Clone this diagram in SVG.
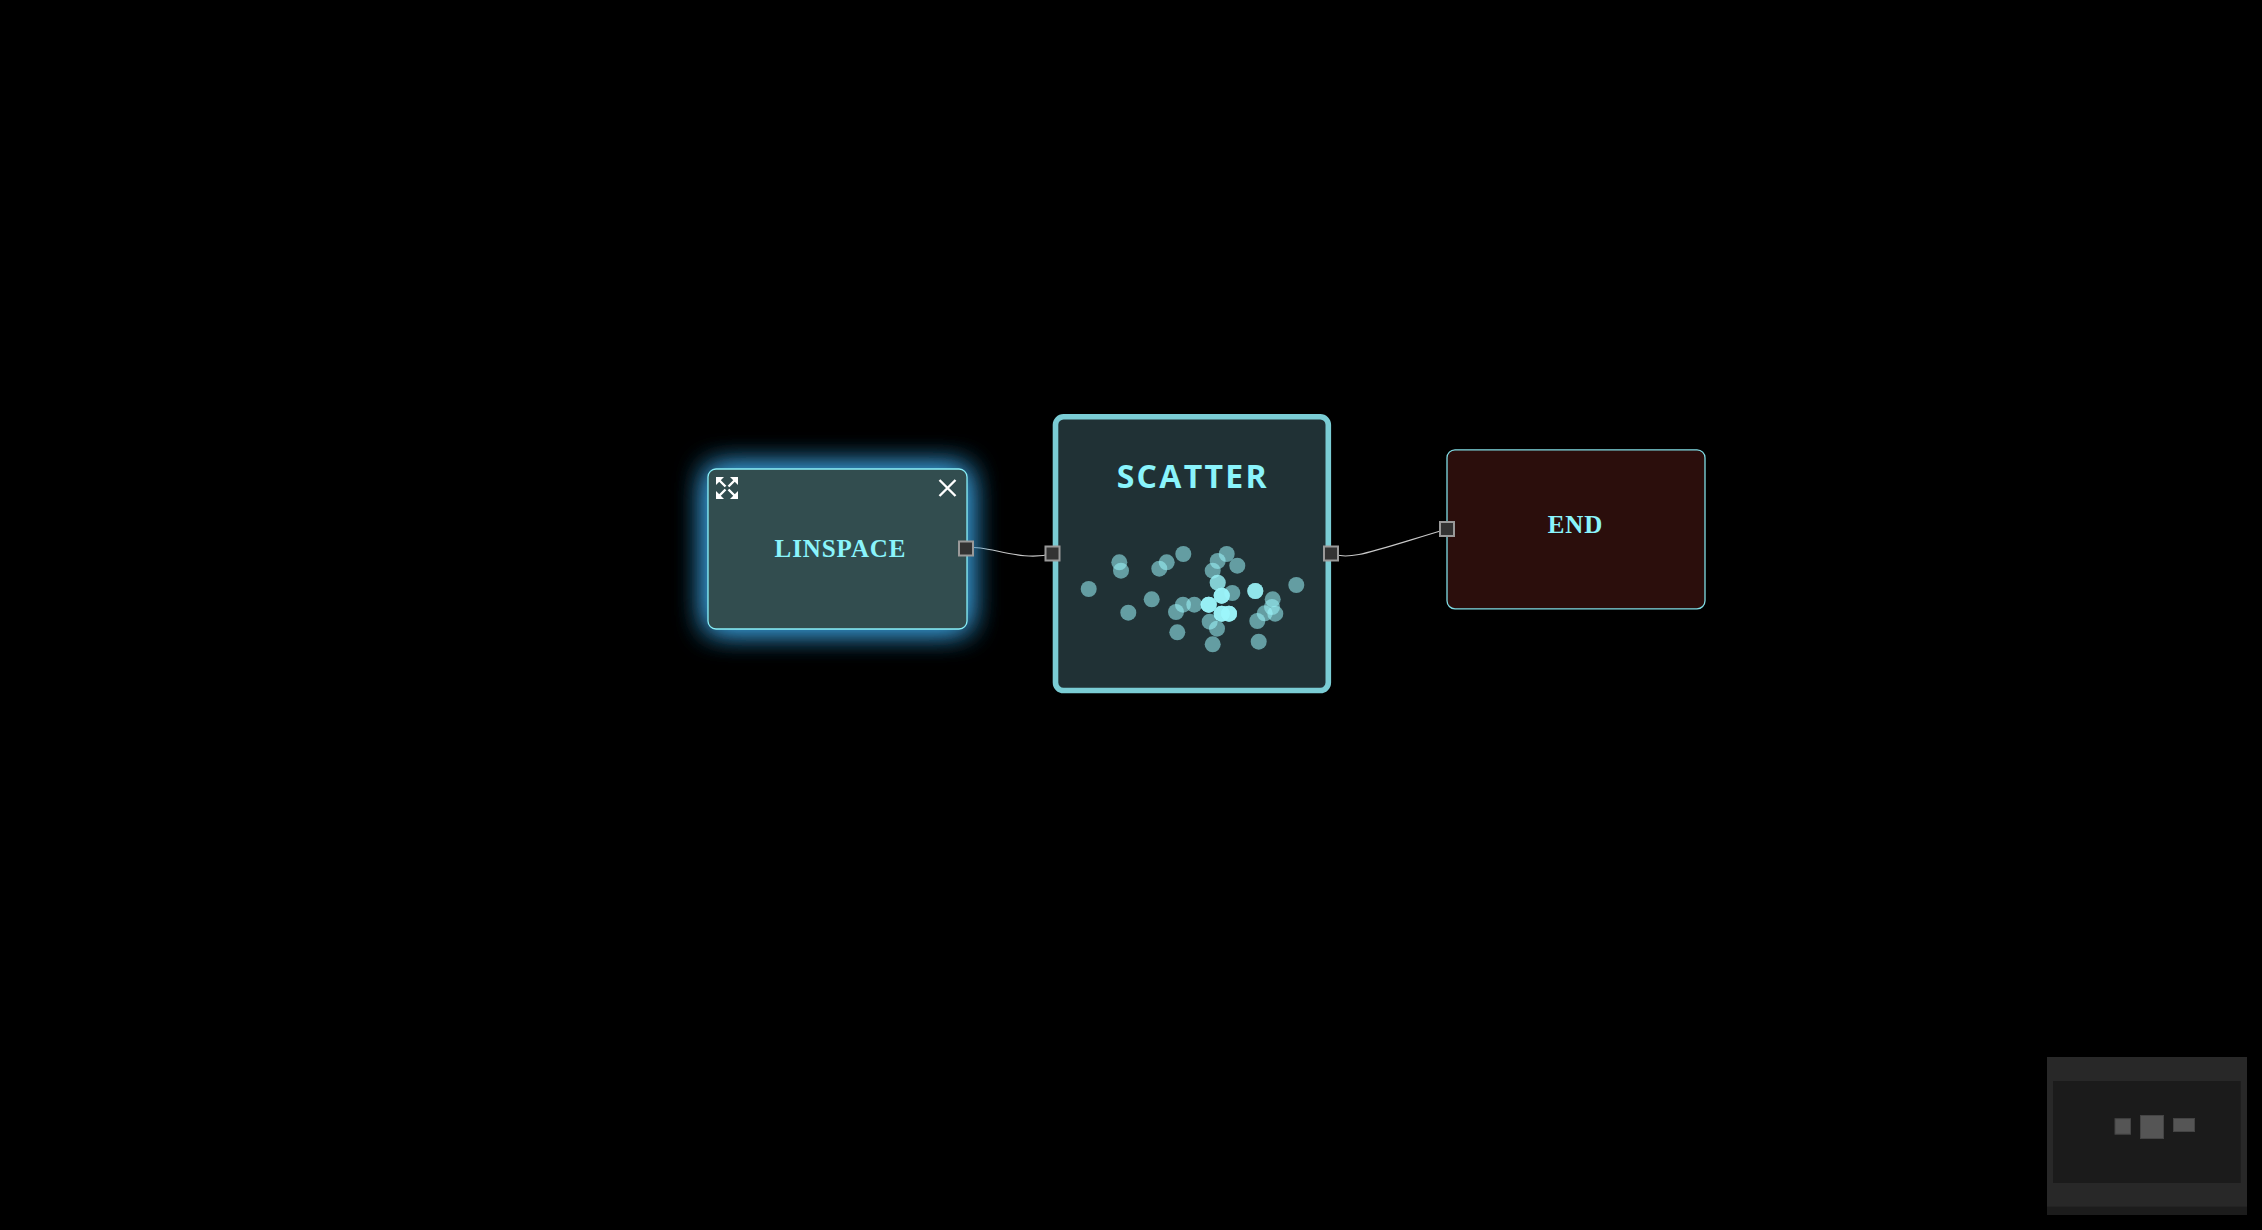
<svg xmlns="http://www.w3.org/2000/svg" width="2262" height="1230" viewBox="0 0 2262 1230">
<style>
.bg{fill:#000}
.label{fill:#8af4fc;font-weight:700;text-anchor:middle}
.serif{font-family:"Liberation Serif","Times New Roman",serif;font-size:25px;letter-spacing:.9px}
.sans{font-family:"Open Sans","Noto Sans",sans-serif;font-size:32px;letter-spacing:2.3px}
.port{fill:#333;stroke:#999;stroke-width:2}
.wire{fill:none;stroke:#c8c8c8;stroke-width:1.1}
.dot{fill:#9cf6fc;fill-opacity:.55}
.icon{fill:none;stroke:#fff;stroke-width:2.4}
.mm{fill:#555;stroke:#444;stroke-width:1}
</style>
<defs>
<filter id="glow" x="-30%" y="-45%" width="160%" height="190%">
<feGaussianBlur in="SourceAlpha" stdDeviation="15" result="b"/>
<feFlood flood-color="#3a9fdc"/>
<feComposite in2="b" operator="in" result="s"/>
<feMerge><feMergeNode in="s"/><feMergeNode in="s"/><feMergeNode in="SourceGraphic"/></feMerge>
</filter>
</defs>
<rect class="bg" width="2262" height="1230"/>
<g id="connectors">
<path class="wire" d="M966 548.5C985 543 1020 563 1052.5 553.5"/>
<path class="wire" d="M1331 553.5C1350 561 1370 552 1447 529"/>
</g>
<g id="node-linspace">
<rect x="708" y="469" width="259" height="160" rx="8" fill="#324d4f" stroke="#86eef8" stroke-width="1.3" filter="url(#glow)"/>
<text class="label serif" x="840.5" y="557">LINSPACE</text>
<path class="icon" d="M718 479L725.5 486.5M718 497L725.5 489.5M736 479L728.5 486.5M736 497L728.5 489.5"/>
<path fill="#fff" d="M716 477h8l-8 8zM738 477h-8l8 8zM716 499h8l-8-8zM738 499h-8l8-8z"/>
<path class="icon" d="M939.5 480L955.5 496M955.5 480L939.5 496"/>
<rect class="port" x="959" y="541.5" width="14" height="14"/>
</g>
<g id="node-scatter">
<rect x="1055.5" y="416.8" width="272.8" height="273.7" rx="8" fill="#203135" stroke="#7accd4" stroke-width="5.6"/>
<text class="label sans" x="1192.8" y="488">SCATTER</text>
<g id="scatter-points">
<circle class="dot" r="8" cx="1119.3" cy="562.3"/>
<circle class="dot" r="8" cx="1121" cy="570.7"/>
<circle class="dot" r="8" cx="1088.7" cy="589"/>
<circle class="dot" r="8" cx="1128.3" cy="612.7"/>
<circle class="dot" r="8" cx="1151.7" cy="599.3"/>
<circle class="dot" r="8" cx="1159.3" cy="568.7"/>
<circle class="dot" r="8" cx="1166.7" cy="562.3"/>
<circle class="dot" r="8" cx="1183.3" cy="554"/>
<circle class="dot" r="8" cx="1226.7" cy="554"/>
<circle class="dot" r="8" cx="1217.7" cy="561"/>
<circle class="dot" r="8" cx="1212.7" cy="570.7"/>
<circle class="dot" r="8" cx="1237.3" cy="565.7"/>
<circle class="dot" r="8" cx="1217.7" cy="582.7"/>
<circle class="dot" r="8" cx="1217.7" cy="582.7"/>
<circle class="dot" r="8" cx="1232.3" cy="593"/>
<circle class="dot" r="8" cx="1221.7" cy="595.7"/>
<circle class="dot" r="8" cx="1221.7" cy="595.7"/>
<circle class="dot" r="8" cx="1221.7" cy="595.7"/>
<circle class="dot" r="8" cx="1221.7" cy="595.7"/>
<circle class="dot" r="8" cx="1208.7" cy="604.7"/>
<circle class="dot" r="8" cx="1208.7" cy="604.7"/>
<circle class="dot" r="8" cx="1208.7" cy="604.7"/>
<circle class="dot" r="8" cx="1208.7" cy="604.7"/>
<circle class="dot" r="8" cx="1183" cy="604.7"/>
<circle class="dot" r="8" cx="1194.3" cy="604.7"/>
<circle class="dot" r="8" cx="1176" cy="612"/>
<circle class="dot" r="8" cx="1177.3" cy="632.3"/>
<circle class="dot" r="8" cx="1209.7" cy="621.7"/>
<circle class="dot" r="8" cx="1217" cy="628.7"/>
<circle class="dot" r="8" cx="1212.7" cy="644.3"/>
<circle class="dot" r="8" cx="1221.7" cy="613.7"/>
<circle class="dot" r="8" cx="1221.7" cy="613.7"/>
<circle class="dot" r="8" cx="1221.7" cy="613.7"/>
<circle class="dot" r="8" cx="1221.7" cy="613.7"/>
<circle class="dot" r="8" cx="1229" cy="613.7"/>
<circle class="dot" r="8" cx="1229" cy="613.7"/>
<circle class="dot" r="8" cx="1229" cy="613.7"/>
<circle class="dot" r="8" cx="1229" cy="613.7"/>
<circle class="dot" r="8" cx="1255.3" cy="591"/>
<circle class="dot" r="8" cx="1255.3" cy="591"/>
<circle class="dot" r="8" cx="1255.3" cy="591"/>
<circle class="dot" r="8" cx="1296.3" cy="585"/>
<circle class="dot" r="8" cx="1272.7" cy="599.3"/>
<circle class="dot" r="8" cx="1272" cy="607"/>
<circle class="dot" r="8" cx="1264.7" cy="613.3"/>
<circle class="dot" r="8" cx="1275.3" cy="613.7"/>
<circle class="dot" r="8" cx="1257.3" cy="621"/>
<circle class="dot" r="8" cx="1258.7" cy="641.7"/>
</g>
<rect class="port" x="1045.5" y="546.5" width="14" height="14"/>
<rect class="port" x="1324" y="546.5" width="14" height="14"/>
</g>
<g id="node-end">
<rect x="1447" y="449.8" width="258" height="159" rx="8" fill="#2b0e0c" stroke="#80dde5" stroke-width="1.3"/>
<text class="label serif" x="1575.5" y="533">END</text>
<rect class="port" x="1440" y="522" width="14" height="14"/>
</g>
<g id="minimap">
<rect x="2047" y="1057" width="200" height="158" fill="#282828"/>
<rect x="2047" y="1206.7" width="200" height="8.3" fill="#1c1c1c"/>
<rect x="2053" y="1081" width="187.7" height="102" fill="#1b1b1b"/>
<rect class="mm" x="2115" y="1118.7" width="15.5" height="15.5"/>
<rect class="mm" x="2140.5" y="1115.5" width="23" height="23"/>
<rect class="mm" x="2173.5" y="1118.5" width="21" height="13"/>
</g>
</svg>
